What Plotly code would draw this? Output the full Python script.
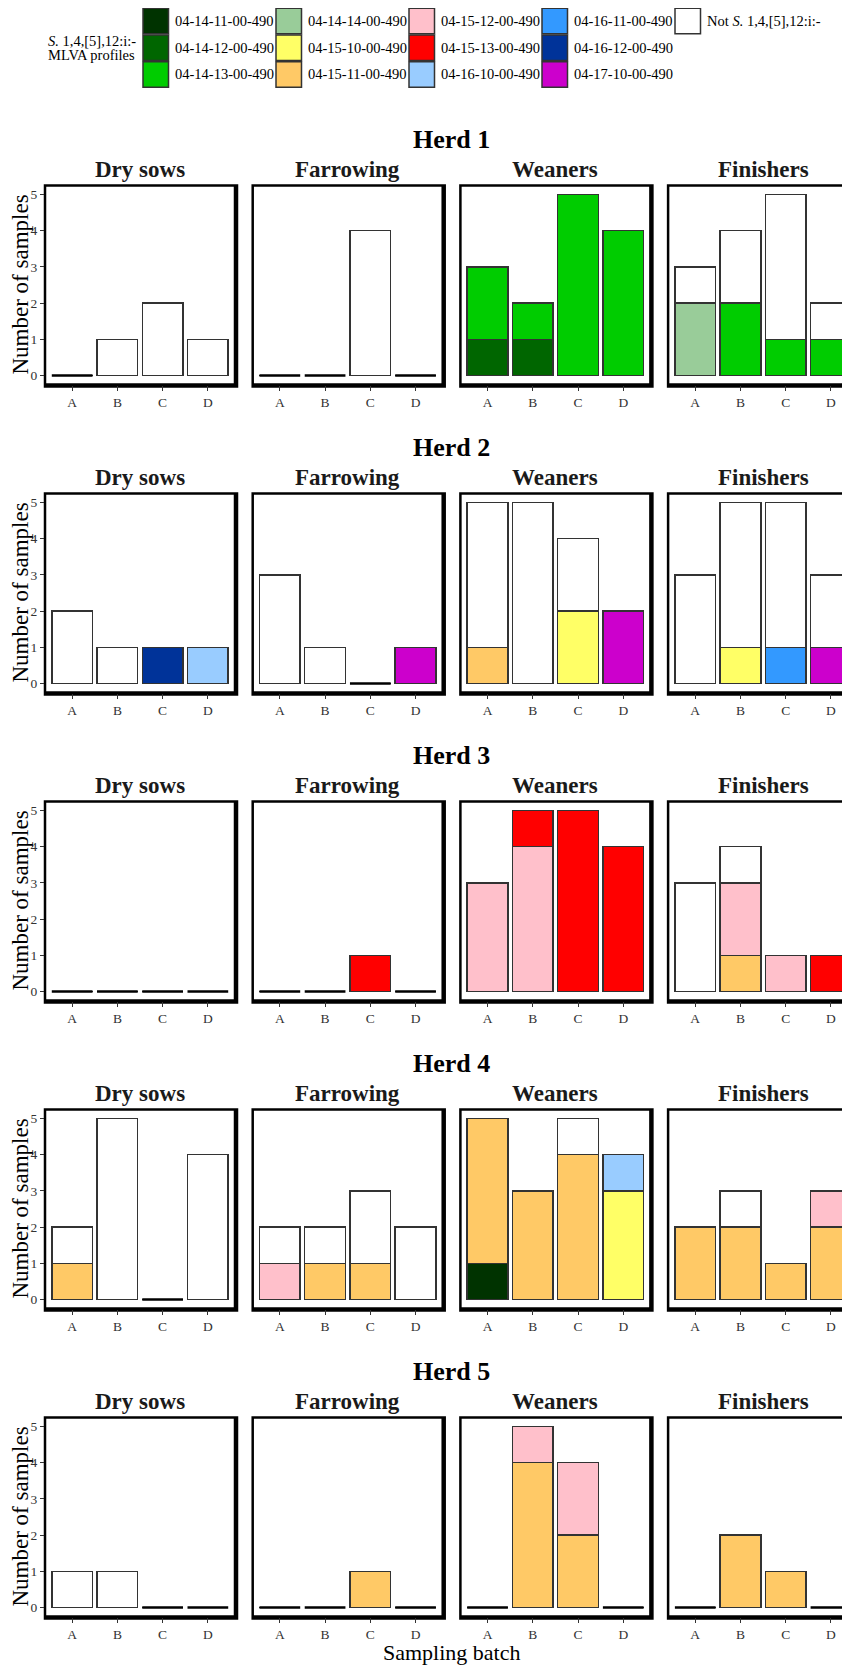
import plotly.graph_objects as go

# ---------------- data ----------------
HERDS = ["Herd 1", "Herd 2", "Herd 3", "Herd 4", "Herd 5"]
STAGES = ["Dry sows", "Farrowing", "Weaners", "Finishers"]
BATCHES = ["A", "B", "C", "D"]
Y_TICKS = [0, 1, 2, 3, 4, 5]

NOT = "Not S. 1,4,[5],12:i:-"
PROFILES = [
    "04-14-11-00-490", "04-14-12-00-490", "04-14-13-00-490",
    "04-14-14-00-490", "04-15-10-00-490", "04-15-11-00-490",
    "04-15-12-00-490", "04-15-13-00-490", "04-16-10-00-490",
    "04-16-11-00-490", "04-16-12-00-490", "04-17-10-00-490",
    NOT,
]
COLORS = [
    "#003300", "#006600", "#00CC00",
    "#99CC99", "#FFFF66", "#FFC966",
    "#FFC0CB", "#FF0000", "#99CCFF",
    "#3399FF", "#003399", "#CC00CC",
    "#FFFFFF",
]
LEGEND_LABELS = PROFILES[:-1] + ["Not <i>S.</i> 1,4,[5],12:i:-"]

# counts per batch (A, B, C, D)
H1_DRY = {NOT: [0, 1, 2, 1]}
H1_FAR = {NOT: [0, 0, 4, 0]}
H1_WEA = {"04-14-12-00-490": [1, 1, 0, 0], "04-14-13-00-490": [2, 1, 5, 4]}
H1_FIN = {"04-14-13-00-490": [0, 2, 1, 1], "04-14-14-00-490": [2, 0, 0, 0], NOT: [1, 2, 4, 1]}

H2_DRY = {"04-16-10-00-490": [0, 0, 0, 1], "04-16-12-00-490": [0, 0, 1, 0], NOT: [2, 1, 0, 0]}
H2_FAR = {"04-17-10-00-490": [0, 0, 0, 1], NOT: [3, 1, 0, 0]}
H2_WEA = {"04-15-10-00-490": [0, 0, 2, 0], "04-15-11-00-490": [1, 0, 0, 0],
          "04-17-10-00-490": [0, 0, 0, 2], NOT: [4, 5, 2, 0]}
H2_FIN = {"04-15-10-00-490": [0, 1, 0, 0], "04-16-11-00-490": [0, 0, 1, 0],
          "04-17-10-00-490": [0, 0, 0, 1], NOT: [3, 4, 4, 2]}

H3_DRY = {NOT: [0, 0, 0, 0]}
H3_FAR = {"04-15-13-00-490": [0, 0, 1, 0]}
H3_WEA = {"04-15-12-00-490": [3, 4, 0, 0], "04-15-13-00-490": [0, 1, 5, 4]}
H3_FIN = {"04-15-11-00-490": [0, 1, 0, 0], "04-15-12-00-490": [0, 2, 1, 0],
          "04-15-13-00-490": [0, 0, 0, 1], NOT: [3, 1, 0, 0]}

H4_DRY = {"04-15-11-00-490": [1, 0, 0, 0], NOT: [1, 5, 0, 4]}
H4_FAR = {"04-15-11-00-490": [0, 1, 1, 0], "04-15-12-00-490": [1, 0, 0, 0], NOT: [1, 1, 2, 2]}
H4_WEA = {"04-14-11-00-490": [1, 0, 0, 0], "04-15-10-00-490": [0, 0, 0, 3],
          "04-15-11-00-490": [4, 3, 4, 0], "04-16-10-00-490": [0, 0, 0, 1], NOT: [0, 0, 1, 0]}
H4_FIN = {"04-15-11-00-490": [2, 2, 1, 2], "04-15-12-00-490": [0, 0, 0, 1], NOT: [0, 1, 0, 0]}

H5_DRY = {NOT: [1, 1, 0, 0]}
H5_FAR = {"04-15-11-00-490": [0, 0, 1, 0]}
H5_WEA = {"04-15-11-00-490": [0, 4, 2, 0], "04-15-12-00-490": [0, 1, 2, 0]}
H5_FIN = {"04-15-11-00-490": [0, 2, 1, 0]}

PANELS = [
    [H1_DRY, H1_FAR, H1_WEA, H1_FIN],
    [H2_DRY, H2_FAR, H2_WEA, H2_FIN],
    [H3_DRY, H3_FAR, H3_WEA, H3_FIN],
    [H4_DRY, H4_FAR, H4_WEA, H4_FIN],
    [H5_DRY, H5_FAR, H5_WEA, H5_FIN],
]

# ---------------- geometry (page pixels) ----------------
W, H = 850, 1667
OFF = 8  # page body margin
FONT = "Liberation Serif"
COL_LEFT = [45.0, 252.7, 460.4, 668.1]
PANEL_W = 190.0
ROW_TOP0, ROW_STEP, PANEL_H = 185.5, 308.0, 199.0
XLO, XSPAN = -0.6, 4.2
UNIT = PANEL_W / XSPAN
BAR_W = 0.9


def px(x):
    return (x - OFF) / W


def py(y):
    return 1 - (y - OFF) / H


fig = go.Figure()
layout = {}
shapes = []
annotations = []

for r, herd in enumerate(HERDS):
    top = ROW_TOP0 + r * ROW_STEP
    bot = top + PANEL_H
    for c, stage in enumerate(STAGES):
        n = r * 4 + c + 1
        left = COL_LEFT[c]
        right = left + PANEL_W
        vis_right = min(right, W + OFF)
        xa = "x" if n == 1 else f"x{n}"
        ya = "y" if n == 1 else f"y{n}"
        layout["xaxis" if n == 1 else f"xaxis{n}"] = dict(
            domain=[px(left), px(vis_right)],
            range=[XLO, XLO + (vis_right - left) / UNIT],
            anchor=ya, tickvals=list(range(len(BATCHES))), ticktext=BATCHES,
            ticks="outside", ticklen=5, tickwidth=1, tickcolor="#333",
            tickfont=dict(family=FONT, size=13.5, color="#333"),
            showgrid=False, zeroline=False, showline=False, fixedrange=True,
        )
        layout["yaxis" if n == 1 else f"yaxis{n}"] = dict(
            domain=[py(bot), py(top)], range=[-0.25, 5.25], anchor=xa,
            tickvals=Y_TICKS, showticklabels=(c == 0),
            ticks="outside" if c == 0 else "", ticklen=4, tickwidth=1, tickcolor="#333",
            tickfont=dict(family=FONT, size=13.5, color="#333"),
            showgrid=False, zeroline=False, showline=False, fixedrange=True,
        )
        panel = PANELS[r][c]
        for prof, col in zip(PROFILES, COLORS):
            if prof in panel:
                fig.add_trace(go.Bar(
                    x=list(range(len(BATCHES))), y=panel[prof], width=BAR_W,
                    marker=dict(color=col, line=dict(color="#333", width=1.5)),
                    xaxis=xa, yaxis=ya, showlegend=False, name=prof,
                ))
        totals = [sum(v[i] for v in panel.values()) for i in range(len(BATCHES))]
        zx, zy = [], []
        for i, t in enumerate(totals):
            if t == 0:
                zx += [i - BAR_W / 2, i + BAR_W / 2, None]
                zy += [0, 0, None]
        if zx:
            fig.add_trace(go.Scatter(x=zx, y=zy, mode="lines",
                                     line=dict(color="black", width=2.5),
                                     xaxis=xa, yaxis=ya, showlegend=False,
                                     hoverinfo="skip"))
        # panel frame (thicker on right and bottom)
        shapes.append(dict(type="rect", xref="paper", yref="paper", layer="below",
                           x0=px(left - 1.25), x1=px(right + 3.25),
                           y0=py(bot + 3.25), y1=py(top - 1.25),
                           fillcolor="black", line=dict(width=0)))
        shapes.append(dict(type="rect", xref="paper", yref="paper", layer="below",
                           x0=px(left + 1.25), x1=px(right - 1.25),
                           y0=py(bot - 1.25), y1=py(top + 1.25),
                           fillcolor="white", line=dict(width=0)))
        # facet title
        annotations.append(dict(text=f"<b>{stage}</b>", x=px(left + PANEL_W / 2),
                                y=py(top - 16), xref="paper", yref="paper",
                                xanchor="center", yanchor="middle", showarrow=False,
                                font=dict(family=FONT, size=23, color="#1a1a1a")))
    # herd title
    annotations.append(dict(text=f"<b>{herd}</b>", x=px(451.5), y=py(top - 46),
                            xref="paper", yref="paper", xanchor="center",
                            yanchor="middle", showarrow=False,
                            font=dict(family=FONT, size=26, color="black")))
    # y-axis title
    annotations.append(dict(text="Number of samples", x=px(20), y=py(top + 99),
                            xref="paper", yref="paper", xanchor="center",
                            yanchor="middle", textangle=-90, showarrow=False,
                            font=dict(family=FONT, size=23, color="black")))

annotations.append(dict(text="Sampling batch", x=px(451.5), y=py(1652),
                        xref="paper", yref="paper", xanchor="center",
                        yanchor="middle", showarrow=False,
                        font=dict(family=FONT, size=22, color="black")))

# ---------------- legend (drawn manually) ----------------
LEG_COL_X = [143, 276, 409, 542, 675]
LEG_ROW_Y = [8.3, 35.0, 61.7]
KEY = 25.5
for k, (lab, col) in enumerate(zip(LEGEND_LABELS, COLORS)):
    ci, ri = k // 3, k % 3
    x0 = LEG_COL_X[ci]
    y0 = LEG_ROW_Y[ri]
    shapes.append(dict(type="rect", xref="paper", yref="paper",
                       x0=px(x0), x1=px(x0 + KEY), y0=py(y0 + KEY), y1=py(y0),
                       fillcolor=col, line=dict(color="#333", width=1.5)))
    annotations.append(dict(text=lab, x=px(x0 + KEY + 4), y=py(y0 + KEY / 2),
                            xref="paper", yref="paper", xanchor="left",
                            yanchor="middle", showarrow=False,
                            font=dict(family=FONT, size=14.5, color="black")))
annotations.append(dict(text="<i>S.</i> 1,4,[5],12:i:-", x=px(46), y=py(41),
                        xref="paper", yref="paper", xanchor="left", yanchor="middle",
                        showarrow=False, font=dict(family=FONT, size=14.5, color="black")))
annotations.append(dict(text="MLVA profiles", x=px(46), y=py(55.5),
                        xref="paper", yref="paper", xanchor="left", yanchor="middle",
                        showarrow=False, font=dict(family=FONT, size=14.5, color="black")))

fig.update_layout(
    width=W, height=H, autosize=False,
    margin=dict(l=0, r=0, t=0, b=0),
    paper_bgcolor="white", plot_bgcolor="rgba(0,0,0,0)",
    barmode="stack", showlegend=False,
    font=dict(family=FONT, color="black"),
    shapes=shapes, annotations=annotations,
    **layout,
)

fig.write_html("out.html")
